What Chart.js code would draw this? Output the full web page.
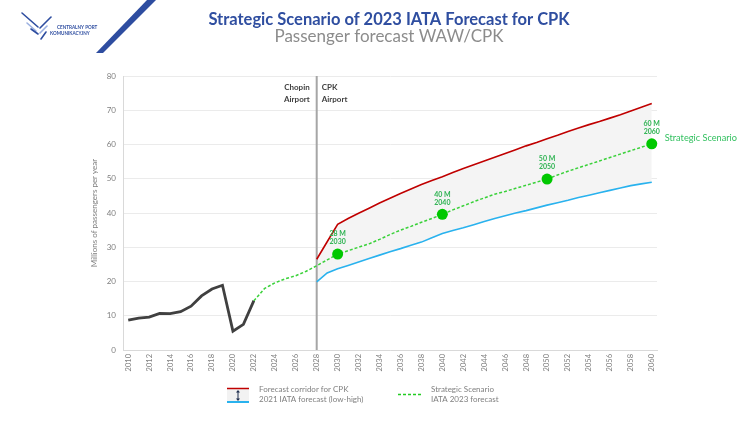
<!DOCTYPE html>
<html><head><meta charset="utf-8">
<script src="https://cdn.jsdelivr.net/npm/chart.js@4.4.1/dist/chart.umd.min.js"></script>
<style>html,body{margin:0;padding:0;background:#fff;}canvas{display:block;}</style>
</head><body>
<canvas id="c" width="750" height="422"></canvas>
<script>
// ---- data ----
const years = ['2010','2011','2012','2013','2014','2015','2016','2017','2018','2019','2020','2021','2022','2023','2024','2025','2026','2027','2028','2029','2030','2031','2032','2033','2034','2035','2036','2037','2038','2039','2040','2041','2042','2043','2044','2045','2046','2047','2048','2049','2050','2051','2052','2053','2054','2055','2056','2057','2058','2059','2060'];
// Chopin Airport actual traffic 2010-2022
const actualStart = '2010';
const actualValues = [8.7,9.3,9.6,10.7,10.6,11.2,12.8,15.8,17.8,18.9,5.5,7.5,14.4];
// Strategic scenario (IATA 2023) 2022-2060
const scenarioStart = '2022';
const scenarioValues = [14.4,17.9,19.6,20.8,21.7,23.0,24.6,26.3,28.0,29.0,30.0,31.0,32.3,33.7,35.0,36.1,37.3,38.4,39.6,40.9,42.1,43.3,44.4,45.5,46.3,47.2,48.1,49.0,49.9,51.1,52.2,53.2,54.2,55.2,56.2,57.2,58.2,59.2,60.2];
// Forecast corridor 2021 IATA (high / low) 2028-2060
const corridorStart = '2028';
const highValues = [26.5,31.6,36.7,38.4,39.9,41.4,42.9,44.3,45.7,47.0,48.3,49.5,50.6,51.8,53.0,54.1,55.2,56.3,57.4,58.5,59.6,60.6,61.7,62.7,63.8,64.8,65.8,66.7,67.7,68.7,69.8,70.9,72.0];
const lowValues = [19.9,22.5,23.7,24.7,25.7,26.7,27.7,28.7,29.6,30.6,31.5,32.8,34.0,34.9,35.7,36.6,37.5,38.4,39.2,40.0,40.7,41.5,42.3,43.0,43.7,44.5,45.2,45.9,46.6,47.3,48.0,48.5,49.0];
const milestoneYears = ['2030','2040','2050','2060'];
const milestoneLabels = ['28 M','40 M','50 M','60 M'];
const yTicks = [0,10,20,30,40,50,60,70,80];
const dividerYear = '2028';

function pad(start, vals){
  const out = years.map(()=>null);
  const s = years.indexOf(start);
  vals.forEach((v,i)=>{ out[s+i]=v; });
  return out;
}

const FONT = 'Lato';

const deco = {
  id:'deco',
  beforeDatasetsDraw(chart){
    const {ctx, chartArea, scales} = chart;
    const x = scales.x.getPixelForValue(years.indexOf(dividerYear));
    ctx.save();
    ctx.strokeStyle = '#a6a6a6'; ctx.lineWidth = 2;
    ctx.beginPath(); ctx.moveTo(x, chartArea.top); ctx.lineTo(x, chartArea.bottom); ctx.stroke();
    ctx.fillStyle = '#404040';
    ctx.font = 'bold 8px ' + FONT;
    ctx.textBaseline = 'middle';
    ctx.textAlign = 'right';
    ctx.fillText('Chopin', x-7, 87);
    ctx.fillText('Airport', x-7, 99);
    ctx.textAlign = 'left';
    ctx.fillText('CPK', x+5, 87);
    ctx.fillText('Airport', x+5, 99);
    ctx.restore();
  },
  afterDatasetsDraw(chart){
    const {ctx} = chart;
    const meta = chart.getDatasetMeta(0);
    ctx.save();
    ctx.textAlign = 'center'; ctx.textBaseline = 'middle';
    ctx.fillStyle = '#2eb352';
    ctx.font = 'bold 7px ' + FONT;
    let lastPt = null;
    milestoneYears.forEach((yr,i)=>{
      const pt = meta.data[years.indexOf(yr)];
      ctx.fillText(milestoneLabels[i], pt.x, pt.y-20);
      ctx.fillText(yr, pt.x, pt.y-12);
      lastPt = pt;
    });
    ctx.textAlign = 'left';
    ctx.fillStyle = '#33c060';
    ctx.font = '9.2px ' + FONT;
    ctx.fillText('Strategic Scenario', lastPt.x+13, lastPt.y-6);
    ctx.restore();
  },
  afterDraw(chart){
    const {ctx} = chart;
    ctx.save();
    // title
    ctx.textAlign = 'center'; ctx.textBaseline = 'middle';
    ctx.fillStyle = '#2f4ea0';
    ctx.font = 'bold 16.5px ' + FONT;
    ctx.fillText('Strategic Scenario of 2023 IATA Forecast for CPK', 389, 20);
    ctx.fillStyle = '#8c8c8c';
    ctx.font = '17px ' + FONT;
    ctx.fillText('Passenger forecast WAW/CPK', 389, 37);
    // logo stripe
    ctx.fillStyle = '#2e4da0';
    ctx.beginPath(); ctx.moveTo(147,0); ctx.lineTo(156,0); ctx.lineTo(103,53); ctx.lineTo(96,53); ctx.closePath(); ctx.fill();
    // logo mark
    const strokes = [
      [22,13,38,27,'#2e4da0'],[27,23,36,31,'#9bb0e0'],[31,29,38,34,'#2e4da0'],
      [51,17,40,28,'#2e4da0'],[47,26,40,33,'#9bb0e0'],[46,32,41,39,'#2e4da0']
    ];
    ctx.lineWidth = 1.6; ctx.lineCap = 'round';
    strokes.forEach(s=>{ ctx.strokeStyle=s[4]; ctx.beginPath(); ctx.moveTo(s[0],s[1]); ctx.lineTo(s[2],s[3]); ctx.stroke(); });
    ctx.fillStyle = '#2e4da0';
    ctx.font = 'bold 4.6px ' + FONT;
    ctx.textAlign = 'left';
    ctx.fillText('CENTRALNY PORT', 57, 27.5);
    ctx.fillText('KOMUNIKACYJNY', 50, 33.5);
    // legend
    ctx.fillStyle = '#f2f2f2';
    ctx.fillRect(227, 389, 22, 13);
    ctx.strokeStyle = '#c00000'; ctx.lineWidth = 1.5; ctx.lineCap='butt';
    ctx.beginPath(); ctx.moveTo(227,388.5); ctx.lineTo(249,388.5); ctx.stroke();
    ctx.strokeStyle = '#29b2ee'; ctx.lineWidth = 2;
    ctx.beginPath(); ctx.moveTo(227,402); ctx.lineTo(249,402); ctx.stroke();
    ctx.strokeStyle = '#1f2f4f'; ctx.fillStyle='#1f2f4f'; ctx.lineWidth = 1;
    ctx.beginPath(); ctx.moveTo(238,391.5); ctx.lineTo(238,399.5); ctx.stroke();
    ctx.beginPath(); ctx.moveTo(236,392.5); ctx.lineTo(240,392.5); ctx.lineTo(238,390); ctx.closePath(); ctx.fill();
    ctx.beginPath(); ctx.moveTo(236,398.5); ctx.lineTo(240,398.5); ctx.lineTo(238,401); ctx.closePath(); ctx.fill();
    ctx.strokeStyle = '#22cc22'; ctx.lineWidth = 1.3; ctx.setLineDash([3,2]);
    ctx.beginPath(); ctx.moveTo(398,394.5); ctx.lineTo(423,394.5); ctx.stroke();
    ctx.setLineDash([]);
    ctx.fillStyle = '#808080';
    ctx.font = '8px ' + FONT;
    ctx.textBaseline = 'middle';
    ctx.fillText('Forecast corridor for CPK', 259, 389.5);
    ctx.fillText('2021 IATA forecast (low-high)', 259, 399);
    ctx.fillText('Strategic Scenario', 431, 389.5);
    ctx.fillText('IATA 2023 forecast', 431, 399);
    ctx.restore();
  }
};

new Chart(document.getElementById('c'), {
  type:'line',
  data:{
    labels: years,
    datasets:[
      {label:'Strategic Scenario', data: pad(scenarioStart, scenarioValues), borderColor:'#3ad13a', borderDash:[3,2], borderWidth:1.5, fill:false,
       pointRadius: c => milestoneYears.includes(years[c.dataIndex]) ? 5.5 : 0,
       pointBackgroundColor:'#00c800', pointBorderColor:'#00c800', pointBorderWidth:0, tension:0},
      {label:'Chopin actual', data: pad(actualStart, actualValues), borderColor:'#404040', borderWidth:2.8, pointRadius:0, fill:false, tension:0},
      {label:'High', data: pad(corridorStart, highValues), borderColor:'#c00000', borderWidth:1.6, pointRadius:0, fill:false, tension:0},
      {label:'Low', data: pad(corridorStart, lowValues), borderColor:'#29b2ee', borderWidth:1.6, pointRadius:0, fill:2, backgroundColor:'#f4f4f4', tension:0}
    ]
  },
  options:{
    responsive:false, animation:false,
    layout:{padding:{left:90, right:93, top:76, bottom:0}},
    plugins:{legend:{display:false}, tooltip:{enabled:false}, title:{display:false}, filler:{drawTime:'beforeDatasetsDraw'}},
    scales:{
      x:{offset:true, grid:{display:false, drawTicks:false}, border:{color:'#d9d9d9', width:1},
         ticks:{autoSkip:false, minRotation:90, maxRotation:90, padding:4, color:'#7f7f7f', font:{size:7.5, family:FONT},
                callback:(v,i)=> i%2===0 ? years[i] : ''},
         afterFit:s=>{ s.height = 72; }},
      y:{min:0, max:80, afterBuildTicks: s=>{ s.ticks = yTicks.map(v=>({value:v})); },
         ticks:{padding:7, color:'#7f7f7f', font:{size:8, family:FONT}},
         grid:{color:'#ebebeb', drawTicks:false}, border:{color:'#d9d9d9'},
         title:{display:true, text:'Millions of passengers per year', color:'#7f7f7f', font:{size:8, family:FONT}, padding:0},
         afterFit:s=>{ s.width = 33; }}
    }
  },
  plugins:[deco]
});
</script>
</body></html>
